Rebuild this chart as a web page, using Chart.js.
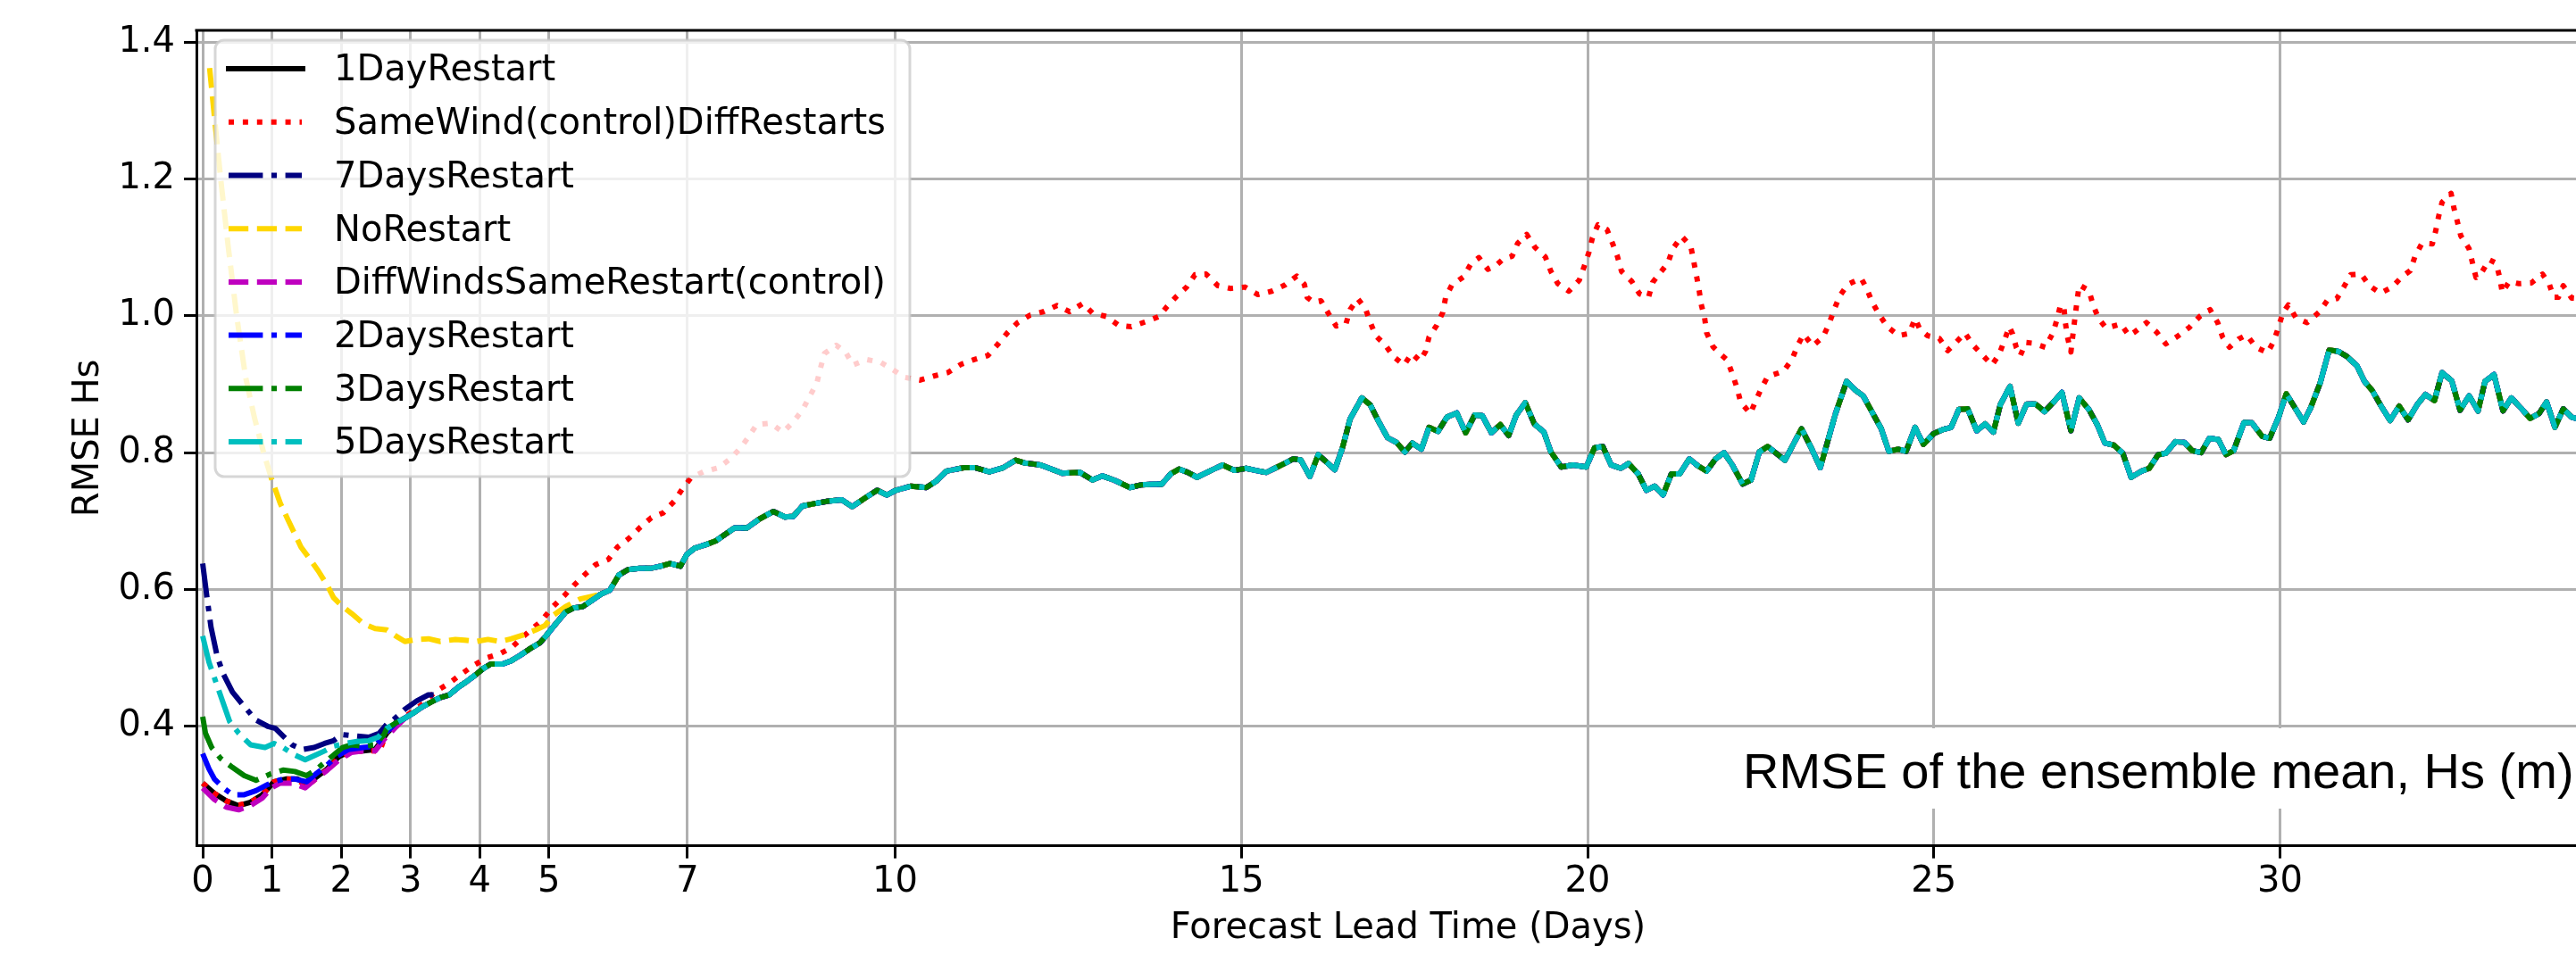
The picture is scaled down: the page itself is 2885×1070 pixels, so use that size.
<!DOCTYPE html>
<html><head><meta charset="utf-8">
<script src="https://cdn.jsdelivr.net/npm/chart.js@4.4.1/dist/chart.umd.min.js"></script>
<style>
html,body{margin:0;padding:0;background:#fff;overflow:hidden;}
#wrap{width:2885px;height:1070px;overflow:hidden;position:relative;background:#fff;}
canvas{display:block;}
</style></head><body>
<div id="wrap"><canvas id="c" width="2934" height="1070"></canvas></div>
<script>
// ---- tick labels ----
const xTickValues = [0,1,2,3,4,5,7,10,15,20,25,30];
const yTickValues = [0.4,0.6,0.8,1.0,1.2,1.4];
const seriesLabels = ['1DayRestart','SameWind(control)DiffRestarts','7DaysRestart','NoRestart',
  'DiffWindsSameRestart(control)','2DaysRestart','3DaysRestart','5DaysRestart'];
const xTitle = 'Forecast Lead Time (Days)';
const yTitle = 'RMSE Hs';
const noteText = 'RMSE of the ensemble mean, Hs (m)';

// ---- common curve that all restart runs converge to ----
const sharedDays = [2.66,2.79,2.92,3.05,3.18,3.33,3.43,3.56,3.69,3.82,
 3.95,4.06,4.16,4.33,4.46,4.59,4.72,4.87,4.94,5.06,
 5.24,5.36,5.49,5.62,5.75,5.88,6.01,6.14,6.31,6.48,
 6.61,6.75,6.90,6.99,7.10,7.28,7.41,7.68,7.86,8.04,
 8.24,8.41,8.53,8.66,8.86,9.03,9.23,9.38,9.57,9.74,
 9.88,10.01,10.23,10.45,10.59,10.74,10.99,11.16,11.36,11.56,
 11.74,11.87,12.10,12.23,12.41,12.67,12.85,12.99,13.16,13.39,
 13.56,13.74,13.85,13.98,14.10,14.23,14.36,14.54,14.73,14.90,
 15.07,15.21,15.36,15.52,15.64,15.75,15.86,15.99,16.11,16.22,
 16.35,16.46,16.57,16.74,16.86,16.98,17.11,17.24,17.36,17.47,
 17.60,17.71,17.84,17.97,18.11,18.24,18.37,18.48,18.61,18.74,
 18.86,18.97,19.10,19.23,19.37,19.47,19.62,19.79,19.98,20.10,
 20.22,20.34,20.48,20.59,20.73,20.85,20.97,21.09,21.21,21.33,
 21.47,21.59,21.72,21.85,21.97,22.09,22.24,22.36,22.48,22.60,
 22.85,23.09,23.23,23.36,23.58,23.74,23.87,23.98,24.11,24.24,
 24.35,24.49,24.60,24.73,24.85,25.00,25.14,25.25,25.36,25.49,
 25.62,25.74,25.86,25.96,26.10,26.22,26.34,26.47,26.60,26.73,
 26.85,26.98,27.10,27.24,27.36,27.47,27.60,27.73,27.85,28.00,
 28.11,28.24,28.35,28.49,28.62,28.73,28.86,28.98,29.11,29.22,
 29.33,29.48,29.59,29.74,29.85,29.98,30.09,30.34,30.44,30.58,
 30.71,30.84,30.96,31.11,31.22,31.33,31.46,31.59,31.72,31.85,
 31.98,32.10,32.23,32.34,32.48,32.60,32.73,32.86,32.96,33.09,
 33.22,33.34,33.48,33.61,33.74,33.85,33.97,34.09,34.21,34.35];
const sharedVals = [0.397,0.405,0.412,0.420,0.429,0.437,0.442,0.446,0.457,0.466,
 0.476,0.485,0.491,0.491,0.496,0.504,0.513,0.522,0.530,0.545,
 0.567,0.573,0.575,0.584,0.593,0.599,0.621,0.629,0.631,0.631,
 0.634,0.638,0.634,0.651,0.660,0.666,0.671,0.690,0.690,0.703,
 0.714,0.706,0.707,0.722,0.726,0.729,0.731,0.721,0.734,0.745,
 0.738,0.745,0.751,0.749,0.758,0.773,0.778,0.778,0.772,0.778,
 0.789,0.785,0.782,0.777,0.770,0.771,0.760,0.766,0.760,0.749,
 0.753,0.754,0.754,0.769,0.776,0.771,0.764,0.773,0.782,0.774,
 0.777,0.774,0.771,0.779,0.785,0.791,0.789,0.765,0.797,0.787,
 0.775,0.807,0.849,0.880,0.870,0.846,0.822,0.815,0.801,0.814,
 0.805,0.837,0.831,0.852,0.858,0.829,0.855,0.854,0.829,0.841,
 0.825,0.855,0.873,0.842,0.830,0.801,0.779,0.782,0.779,0.807,
 0.809,0.782,0.777,0.784,0.769,0.745,0.751,0.738,0.769,0.769,
 0.791,0.781,0.773,0.791,0.800,0.782,0.754,0.760,0.801,0.809,
 0.789,0.835,0.807,0.778,0.857,0.904,0.891,0.883,0.859,0.835,
 0.802,0.805,0.802,0.837,0.812,0.828,0.834,0.837,0.863,0.864,
 0.832,0.842,0.830,0.870,0.897,0.843,0.871,0.871,0.860,0.874,
 0.888,0.832,0.880,0.863,0.841,0.814,0.811,0.799,0.764,0.773,
 0.777,0.797,0.799,0.816,0.815,0.803,0.800,0.821,0.819,0.797,
 0.803,0.844,0.844,0.824,0.821,0.852,0.886,0.845,0.865,0.902,
 0.950,0.948,0.941,0.927,0.904,0.891,0.868,0.847,0.868,0.848,
 0.870,0.885,0.876,0.917,0.905,0.862,0.883,0.861,0.904,0.914,
 0.861,0.880,0.865,0.850,0.857,0.874,0.837,0.864,0.852,0.848];

// ---- early (diverging) parts of each run ----
const day1Days = [0,0.17,0.34,0.52,0.69,0.86,1.03,1.20,1.37,1.50,1.63,1.80,1.97,2.15,2.32,2.49,2.66,2.79];
const day1Vals = [0.317,0.302,0.291,0.284,0.289,0.300,0.319,0.323,0.323,0.315,0.325,0.338,0.356,0.364,0.364,0.366,0.390,0.403];

const diffWindsDays = [0,0.17,0.34,0.52,0.69,0.86,0.99,1.12,1.29,1.48,1.63,1.80,1.97,2.15,2.32,2.49,2.62,2.79];
const diffWindsVals = [0.310,0.293,0.282,0.278,0.284,0.295,0.310,0.317,0.317,0.310,0.323,0.336,0.351,0.362,0.364,0.364,0.381,0.399];

const days2Days = [0,0.09,0.17,0.30,0.43,0.60,0.77,0.94,1.03,1.16,1.33,1.50,1.63,1.76,1.93,2.10,2.32,2.49,2.66];
const days2Vals = [0.360,0.338,0.323,0.310,0.300,0.300,0.306,0.315,0.319,0.323,0.323,0.319,0.330,0.340,0.356,0.366,0.369,0.371,0.392];

const days3Days = [0,0.04,0.13,0.26,0.43,0.60,0.77,0.97,1.16,1.33,1.50,1.63,1.76,1.89,2.02,2.15,2.32,2.49,2.62];
const days3Vals = [0.414,0.390,0.369,0.353,0.340,0.328,0.321,0.330,0.336,0.334,0.328,0.336,0.347,0.358,0.369,0.373,0.371,0.373,0.388];

const days5Days = [0,0.09,0.21,0.39,0.52,0.69,0.90,1.03,1.16,1.33,1.48,1.63,1.76,1.89,2.06,2.23,2.40,2.53];
const days5Vals = [0.532,0.494,0.459,0.407,0.390,0.373,0.369,0.375,0.369,0.358,0.351,0.358,0.364,0.371,0.375,0.378,0.379,0.384];

const days7Days = [0,0.06,0.12,0.21,0.30,0.43,0.60,0.77,0.94,1.05,1.16,1.29,1.44,1.61,1.76,1.89,2.01,2.19,2.40,2.55,2.66,2.75,2.92,3.09,3.26,3.39];
const days7Vals = [0.638,0.590,0.545,0.502,0.476,0.450,0.429,0.409,0.400,0.397,0.386,0.373,0.366,0.369,0.375,0.379,0.388,0.386,0.384,0.390,0.403,0.409,0.425,0.437,0.446,0.446];

const noRestartDays = [0.10,0.18,0.26,0.37,0.49,0.62,0.75,0.88,1.00,1.12,1.24,1.42,1.55,1.67,1.80,1.89,2.02,2.15,2.32,2.49,
 2.66,2.79,2.92,3.09,3.26,3.43,3.65,3.78,3.95,4.12,4.29,4.46,4.64,4.81,4.94,5.06,5.24,5.45,5.62];
const noRestartVals = [1.362,1.280,1.200,1.100,1.000,0.910,0.850,0.800,0.760,0.726,0.700,0.662,0.644,0.627,0.606,0.588,0.575,0.565,0.550,0.543,
 0.541,0.532,0.524,0.527,0.528,0.524,0.527,0.526,0.524,0.527,0.524,0.528,0.534,0.541,0.547,0.562,0.575,0.586,0.590];

// ---- SameWind(control)DiffRestarts (full series) ----
const sameWindDays = [0,0.17,0.34,0.52,0.69,0.86,1.03,1.20,1.37,1.50,
 1.63,1.80,1.97,2.15,2.32,2.49,2.55,2.66,2.79,2.92,
 3.05,3.18,3.35,3.56,3.73,3.91,4.10,4.29,4.46,4.64,
 4.89,5.06,5.24,5.36,5.51,5.67,5.86,5.99,6.16,6.31,
 6.48,6.65,6.81,6.92,7.05,7.23,7.45,7.62,7.76,7.89,
 8.00,8.20,8.38,8.53,8.66,8.77,8.87,8.92,8.98,9.15,
 9.29,9.39,9.59,9.79,9.97,10.14,10.36,10.56,10.76,10.95,
 11.14,11.34,11.48,11.62,11.77,11.95,12.14,12.34,12.52,12.71,
 12.85,13.05,13.23,13.41,13.61,13.81,13.93,14.06,14.21,14.33,
 14.49,14.66,14.84,15.05,15.24,15.44,15.63,15.80,15.91,15.95,
 16.04,16.15,16.26,16.37,16.51,16.57,16.68,16.79,16.86,16.94,
 17.08,17.20,17.35,17.46,17.58,17.66,17.71,17.82,17.91,17.95,
 18.04,18.21,18.31,18.43,18.56,18.67,18.78,18.91,18.99,19.12,
 19.24,19.39,19.47,19.57,19.73,19.88,19.95,20.02,20.07,20.15,
 20.28,20.36,20.43,20.49,20.64,20.75,20.88,20.94,21.05,21.16,
 21.23,21.36,21.49,21.53,21.57,21.61,21.64,21.69,21.72,21.81,
 21.91,22.02,22.09,22.16,22.21,22.35,22.42,22.51,22.60,22.83,
 22.95,23.04,23.12,23.25,23.40,23.49,23.56,23.64,23.76,23.95,
 24.03,24.11,24.21,24.33,24.49,24.64,24.73,24.80,24.91,25.08,
 25.20,25.30,25.45,25.56,25.70,25.84,25.94,26.02,26.09,26.14,
 26.19,26.25,26.33,26.43,26.61,26.72,26.78,26.83,26.88,26.90,
 26.93,26.98,27.02,27.07,27.10,27.24,27.30,27.38,27.49,27.70,
 27.82,27.91,28.07,28.22,28.35,28.52,28.69,28.84,28.99,29.10,
 29.17,29.27,29.40,29.52,29.65,29.82,29.91,29.98,30.04,30.12,
 30.23,30.39,30.56,30.68,30.82,30.92,31.02,31.17,31.29,31.45,
 31.62,31.76,31.88,31.95,32.05,32.20,32.25,32.29,32.34,32.47,
 32.51,32.56,32.61,32.73,32.78,32.83,32.91,33.02,33.12,33.17,
 33.21,33.31,33.45,33.63,33.79,33.89,33.95,34.02,34.09,34.21,
 34.35];
const sameWindVals = [0.317,0.302,0.291,0.285,0.289,0.300,0.319,0.323,0.322,0.312,
 0.323,0.337,0.355,0.363,0.364,0.364,0.362,0.392,0.406,0.414,
 0.423,0.433,0.450,0.463,0.476,0.489,0.500,0.506,0.515,0.532,
 0.554,0.575,0.593,0.606,0.621,0.636,0.644,0.662,0.675,0.690,
 0.705,0.712,0.729,0.746,0.763,0.772,0.778,0.791,0.806,0.824,
 0.841,0.843,0.830,0.845,0.862,0.883,0.902,0.923,0.945,0.957,
 0.946,0.928,0.936,0.932,0.921,0.910,0.906,0.912,0.917,0.929,
 0.936,0.942,0.958,0.975,0.990,1.001,1.006,1.015,1.006,1.018,
 1.004,0.999,0.986,0.984,0.991,0.999,1.014,1.028,1.042,1.060,
 1.061,1.044,1.040,1.042,1.031,1.036,1.045,1.058,1.046,1.027,
 1.020,1.022,1.003,0.985,0.988,1.009,1.025,1.011,0.991,0.971,
 0.957,0.940,0.928,0.945,0.934,0.948,0.969,0.986,1.005,1.027,
 1.045,1.057,1.075,1.085,1.068,1.073,1.083,1.087,1.106,1.119,
 1.100,1.086,1.065,1.047,1.036,1.052,1.072,1.093,1.114,1.133,
 1.126,1.106,1.087,1.065,1.050,1.032,1.027,1.049,1.063,1.077,
 1.098,1.116,1.102,1.081,1.060,1.038,1.017,0.997,0.975,0.955,
 0.945,0.935,0.915,0.894,0.874,0.857,0.874,0.894,0.911,0.919,
 0.936,0.958,0.973,0.956,0.969,0.989,1.009,1.029,1.046,1.055,
 1.040,1.020,1.002,0.984,0.971,0.974,0.996,0.980,0.971,0.967,
 0.949,0.959,0.975,0.958,0.943,0.928,0.943,0.964,0.984,0.973,
 0.954,0.942,0.961,0.960,0.954,0.975,0.995,1.016,1.012,0.990,
 0.969,0.947,0.982,1.023,1.045,1.037,1.016,0.996,0.982,0.988,
 0.971,0.977,0.990,0.976,0.959,0.970,0.983,0.999,1.009,0.990,
 0.969,0.954,0.966,0.972,0.954,0.946,0.963,0.984,1.004,1.016,
 0.997,0.990,1.005,1.022,1.025,1.042,1.060,1.061,1.044,1.033,
 1.042,1.057,1.066,1.087,1.106,1.105,1.125,1.145,1.166,1.179,
 1.158,1.138,1.117,1.098,1.077,1.056,1.063,1.082,1.077,1.057,
 1.034,1.050,1.047,1.048,1.061,1.046,1.027,1.027,1.044,1.026,
 1.025];

// ---- helpers to build library data from the arrays ----
function pts(days, vals){ return days.map((d,i)=>({x:d, y:vals[i]})); }
function withShared(days, vals){
  const last = days[days.length-1];
  const p = pts(days, vals);
  sharedDays.forEach((d,i)=>{ if (d > last + 1e-9) p.push({x:d, y:sharedVals[i]}); });
  return p;
}

const LW = 6;
const DASHED = [22.2, 9.6];
const DOTTED = [6, 9.9];
const DASHDOT = [38.4, 9.6, 6, 9.6];

const seriesData = [
  withShared(day1Days, day1Vals),
  pts(sameWindDays, sameWindVals),
  withShared(days7Days, days7Vals),
  withShared(noRestartDays, noRestartVals),
  withShared(diffWindsDays, diffWindsVals),
  withShared(days2Days, days2Vals),
  withShared(days3Days, days3Vals),
  withShared(days5Days, days5Vals)
];
const seriesColors = ['#000000','#ff0000','#000080','#ffd700','#bf00bf','#0000ff','#008000','#00bfbf'];
const seriesDash = [[], DOTTED, DASHDOT, DASHED, DASHED, DASHDOT, DASHDOT, DASHDOT];

const datasets = seriesLabels.map((lab,i)=>({
  label: lab,
  data: seriesData[i],
  borderColor: seriesColors[i],
  backgroundColor: seriesColors[i],
  borderWidth: LW,
  borderDash: seriesDash[i],
  borderCapStyle: 'butt',
  borderJoinStyle: 'round',
  pointRadius: 0,
  tension: 0,
  fill: false,
  order: seriesLabels.length - 1 - i
}));

const FONT = 'DejaVu Sans';

const framePlugin = {
  id: 'frame',
  afterDatasetsDraw(chart){
    const {ctx, chartArea:a} = chart;
    ctx.save();
    ctx.strokeStyle = '#000'; ctx.lineWidth = 3;
    ctx.beginPath(); ctx.moveTo(a.left - 1.5, a.top); ctx.lineTo(a.right, a.top); ctx.stroke();
    ctx.restore();
  }
};

const legendPlugin = {
  id: 'boxLegend',
  afterDatasetsDraw(chart){
    const ctx = chart.ctx;
    ctx.save();
    const bx = 241, by = 45, bw = 778, bh = 489;
    ctx.beginPath();
    ctx.roundRect(bx, by, bw, bh, 10);
    ctx.fillStyle = 'rgba(255,255,255,0.8)';
    ctx.fill();
    ctx.lineWidth = 3;
    ctx.strokeStyle = 'rgba(204,204,204,0.8)';
    ctx.stroke();
    chart.data.datasets.forEach((ds,i)=>{
      const y = 77.1 + i*59.7;
      ctx.beginPath();
      ctx.setLineDash(ds.borderDash || []);
      ctx.lineDashOffset = 0;
      ctx.lineWidth = ds.borderWidth;
      ctx.strokeStyle = ds.borderColor;
      ctx.lineCap = (ds.borderDash && ds.borderDash.length) ? 'butt' : 'square';
      ctx.moveTo(256, y); ctx.lineTo((ds.borderDash && ds.borderDash.length) ? 338 : 339, y);
      ctx.stroke();
      ctx.setLineDash([]);
      ctx.fillStyle = '#000';
      ctx.font = '40px "' + FONT + '"';
      ctx.textBaseline = 'middle';
      ctx.textAlign = 'left';
      ctx.fillText(ds.label, 374, y + 3);
    });
    ctx.restore();
  }
};

const notePlugin = {
  id: 'note',
  afterDraw(chart){
    const ctx = chart.ctx;
    ctx.save();
    ctx.fillStyle = '#ffffff';
    ctx.fillRect(1935, 816, 1000, 90);
    ctx.fillStyle = '#000';
    ctx.font = '56px "Liberation Sans"';
    ctx.textBaseline = 'alphabetic';
    ctx.textAlign = 'left';
    ctx.fillText(noteText, 1952, 883);
    ctx.restore();
  }
};

new Chart(document.getElementById('c'), {
  type: 'line',
  data: { datasets },
  plugins: [framePlugin, legendPlugin, notePlugin],
  options: {
    responsive: false,
    animation: false,
    devicePixelRatio: 1,
    layout: { padding: { top: 24, left: 0, right: 0, bottom: 0 } },
    plugins: { legend: { display: false }, tooltip: { enabled: false } },
    scales: {
      x: {
        type: 'linear',
        min: -0.0903, max: 34.906,
        afterBuildTicks: s => { s.ticks = xTickValues.map(v => ({ value: v })); },
        afterFit: s => { s.height = 122.3; },
        ticks: { font: { family: FONT, size: 40 }, color: '#000', padding: 3, maxRotation: 0, autoSkip: false,
                 callback: v => String(v) },
        grid: { color: '#b0b0b0', lineWidth: 3, tickColor: '#000', tickLength: 14, tickWidth: 3 },
        border: { display: true, color: '#000', width: 3 },
        title: { display: true, text: xTitle, font: { family: FONT, size: 40 }, color: '#000',
                 padding: { top: 0, bottom: 5 } }
      },
      y: {
        type: 'linear',
        min: 0.2253, max: 1.4172,
        afterBuildTicks: s => { s.ticks = yTickValues.map(v => ({ value: v })); },
        afterFit: s => { s.width = 220; },
        ticks: { font: { family: FONT, size: 40 }, color: '#000', padding: 10, autoSkip: false,
                 callback: v => Number(v).toFixed(1) },
        grid: { color: '#b0b0b0', lineWidth: 3, tickColor: '#000', tickLength: 14, tickWidth: 3 },
        border: { display: true, color: '#000', width: 3 },
        title: { display: true, text: yTitle, font: { family: FONT, size: 40 }, color: '#000',
                 padding: { top: 76, bottom: 0 } }
      }
    }
  }
});
</script>
</body></html>
